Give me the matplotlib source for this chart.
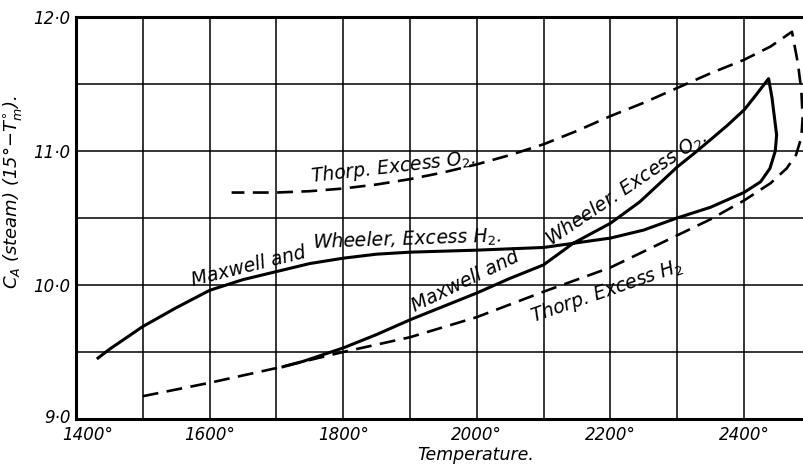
import matplotlib
matplotlib.use("Agg")
import matplotlib.pyplot as plt
from matplotlib.transforms import ScaledTranslation

# Maxwell and Wheeler: Excess H2 branch (left to right) joined through the peak to Excess O2 branch
mw_temp = [1433, 1450, 1500, 1550, 1600, 1650, 1700, 1750, 1800, 1850, 1900, 2000, 2100, 2150,
           2200, 2250, 2300, 2350, 2400, 2425, 2439, 2447, 2449, 2446, 2442, 2437,
           2420, 2401, 2375, 2349, 2325, 2300, 2270, 2244, 2200, 2170, 2144, 2100, 2050,
           2000, 1950, 1900, 1850, 1800, 1770, 1740, 1710]
mw_value = [9.455, 9.52, 9.69, 9.83, 9.96, 10.04, 10.10, 10.16, 10.20, 10.23, 10.245, 10.26, 10.28, 10.315,
            10.35, 10.41, 10.50, 10.58, 10.69, 10.77, 10.87, 11.00, 11.12, 11.24, 11.40, 11.54,
            11.43, 11.31, 11.19, 11.08, 10.98, 10.88, 10.74, 10.62, 10.46, 10.38, 10.31, 10.15, 10.05,
            9.94, 9.84, 9.74, 9.63, 9.53, 9.48, 9.43, 9.39]

# Thorp: Excess H2 branch (left to right) joined through the peak to Excess O2 branch
th_temp = [1500, 1600, 1700, 1800, 1900, 2000, 2100, 2200, 2300, 2350, 2400, 2440, 2464, 2478,
           2486, 2488, 2486, 2481, 2472, 2440, 2400, 2350, 2300, 2250, 2200, 2150, 2100,
           2050, 2000, 1950, 1900, 1850, 1800, 1750, 1700, 1633]
th_value = [9.17, 9.27, 9.38, 9.50, 9.61, 9.76, 9.95, 10.13, 10.37, 10.49, 10.63, 10.76, 10.87, 10.97,
            11.10, 11.25, 11.45, 11.65, 11.89, 11.78, 11.68, 11.58, 11.47, 11.36, 11.26, 11.15, 11.05,
            10.97, 10.90, 10.84, 10.79, 10.75, 10.72, 10.70, 10.69, 10.69]

x_ticks = [1400, 1600, 1800, 2000, 2200, 2400]
x_tick_labels = ["1400°", "1600°", "1800°", "2000°", "2200°", "2400°"]
y_ticks = [9.0, 10.0, 11.0, 12.0]
y_tick_labels = ["9·0", "10·0", "11·0", "12·0"]

fig = plt.figure(figsize=(8.04, 4.67), dpi=100)
ax = fig.add_axes([0.0945, 0.1028, 0.9055, 0.8608])
ax.set_xlim(1400, 2490)
ax.set_ylim(9.0, 12.0)

for xv in range(1500, 2490, 100):
    ax.axvline(xv, color="black", lw=1.1, zorder=1)
for yv in [9.5, 10.0, 10.5, 11.0, 11.5]:
    ax.axhline(yv, color="black", lw=1.1, zorder=1)

ax.plot(mw_temp, mw_value, color="black", lw=2.2, solid_joinstyle="round", zorder=3)
ax.plot(th_temp, th_value, color="black", lw=1.9, dashes=(6, 3.2), zorder=3)

for side in ["left", "top", "bottom"]:
    ax.spines[side].set_linewidth(2.2)
ax.spines["right"].set_visible(False)

ax.set_xticks(x_ticks)
ax.set_xticklabels(x_tick_labels, fontsize=12, style="italic")
ax.set_yticks(y_ticks)
ax.set_yticklabels(y_tick_labels, fontsize=12, style="italic")
ax.tick_params(axis="x", length=0, pad=5)
ax.tick_params(axis="y", length=0, pad=4)

# the first temperature label sits a little to the right, as in the original
first = ax.get_xticklabels()[0]
first.set_transform(first.get_transform() + ScaledTranslation(0.12, 0, fig.dpi_scale_trans))
# the lowest value label sits a little higher
low = ax.get_yticklabels()[0]
low.set_transform(low.get_transform() + ScaledTranslation(0, 0.03, fig.dpi_scale_trans))

ax.set_xlabel("Temperature.", fontsize=12.5, style="italic")
ax.xaxis.set_label_coords(0.549, -0.068)
ax.set_ylabel(r"$C_A$ (steam) (15°$-T_m^{\circ}$).", fontsize=13, style="italic")
ax.yaxis.set_label_coords(-0.072, 0.565)

tkw = dict(fontsize=13.5, style="italic", color="black", ha="left", va="baseline",
           rotation_mode="anchor", zorder=4)
ax.text(1575, 9.99, "Maxwell and", rotation=14, **tkw)
ax.text(1755, 10.27, "Wheeler, Excess H$_2$.", rotation=2, **tkw)
ax.text(1753, 10.77, "Thorp. Excess O$_2$.", rotation=6.5, **tkw)
ax.text(1907, 9.80, "Maxwell and", rotation=26, **tkw)
ax.text(2112, 10.29, "Wheeler. Excess O$_2$.", rotation=34, **tkw)
ax.text(2084, 9.72, "Thorp. Excess H$_2$", rotation=19, **tkw)

fig.savefig("out.png", dpi=100)
